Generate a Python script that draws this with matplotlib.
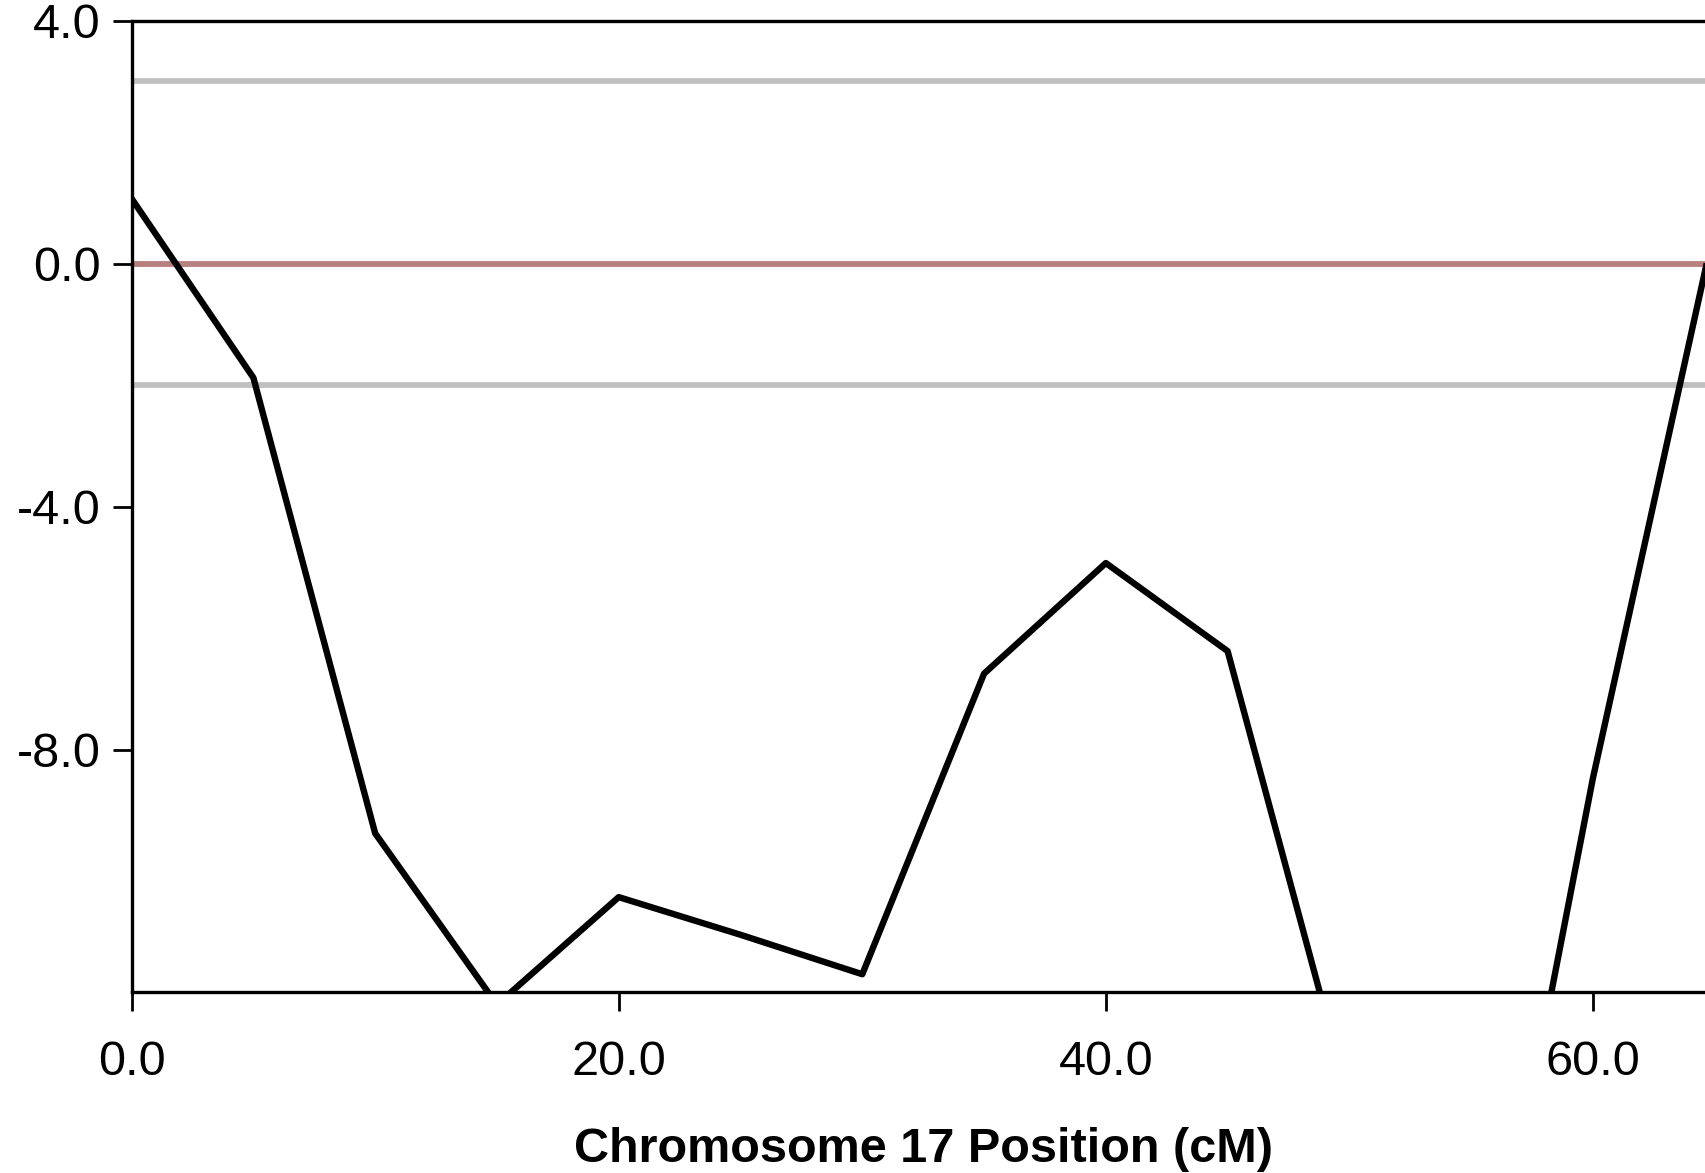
import numpy as np
import matplotlib
matplotlib.use('Agg')
import matplotlib.pyplot as plt

plt.rcParams['font.family'] = ['Liberation Sans', 'DejaVu Sans']

#%% data
position_cm = [0, 5, 10, 15, 20, 25, 30, 35, 40, 45, 50, 55, 60, 65]
score = [1.07, -1.88, -9.38, -12.2, -10.43, -11.05, -11.7, -6.75, -4.93, -6.38,
         -13.8, -18.8, -8.47, 0.6]
upper_thr = 3.0
lower_thr = -2.0
zero_line = 0.0

x_ticks = [0, 20, 40, 60]
y_ticks = [-8, -4, 0, 4]

#%% plot
fig = plt.figure(figsize=(17.05, 11.73), dpi=100)
ax = fig.add_axes([0.0772, 0.1539, 0.9285, 0.8285])

ax.axhline(upper_thr, color='#c0c0c0', lw=4.2, zorder=1)
ax.axhline(lower_thr, color='#c0c0c0', lw=4.2, zorder=1)
ax.axhline(zero_line, color='#b77f7f', lw=4.2, zorder=1)
ax.plot(position_cm, score, color='black', lw=4.6, zorder=3)

ax.set_xlim(0, 65)
ax.set_ylim(-12, 4)
ax.set_xticks(x_ticks)
ax.set_yticks(y_ticks)
ax.set_xticklabels(['%.1f' % v for v in x_ticks])
ax.set_yticklabels(['%.1f' % v for v in y_ticks])
ax.tick_params(axis='both', direction='out', length=13.5, width=2.0,
               labelsize=35, color='black')
ax.tick_params(axis='x', pad=21)
ax.tick_params(axis='y', pad=9)
for s in ['left', 'bottom', 'top', 'right']:
    ax.spines[s].set_linewidth(2.4)

ax.set_xlabel('Chromosome 17 Position (cM)', fontsize=35, fontweight='bold',
              labelpad=30)

fig.savefig('out.png', dpi=100)
